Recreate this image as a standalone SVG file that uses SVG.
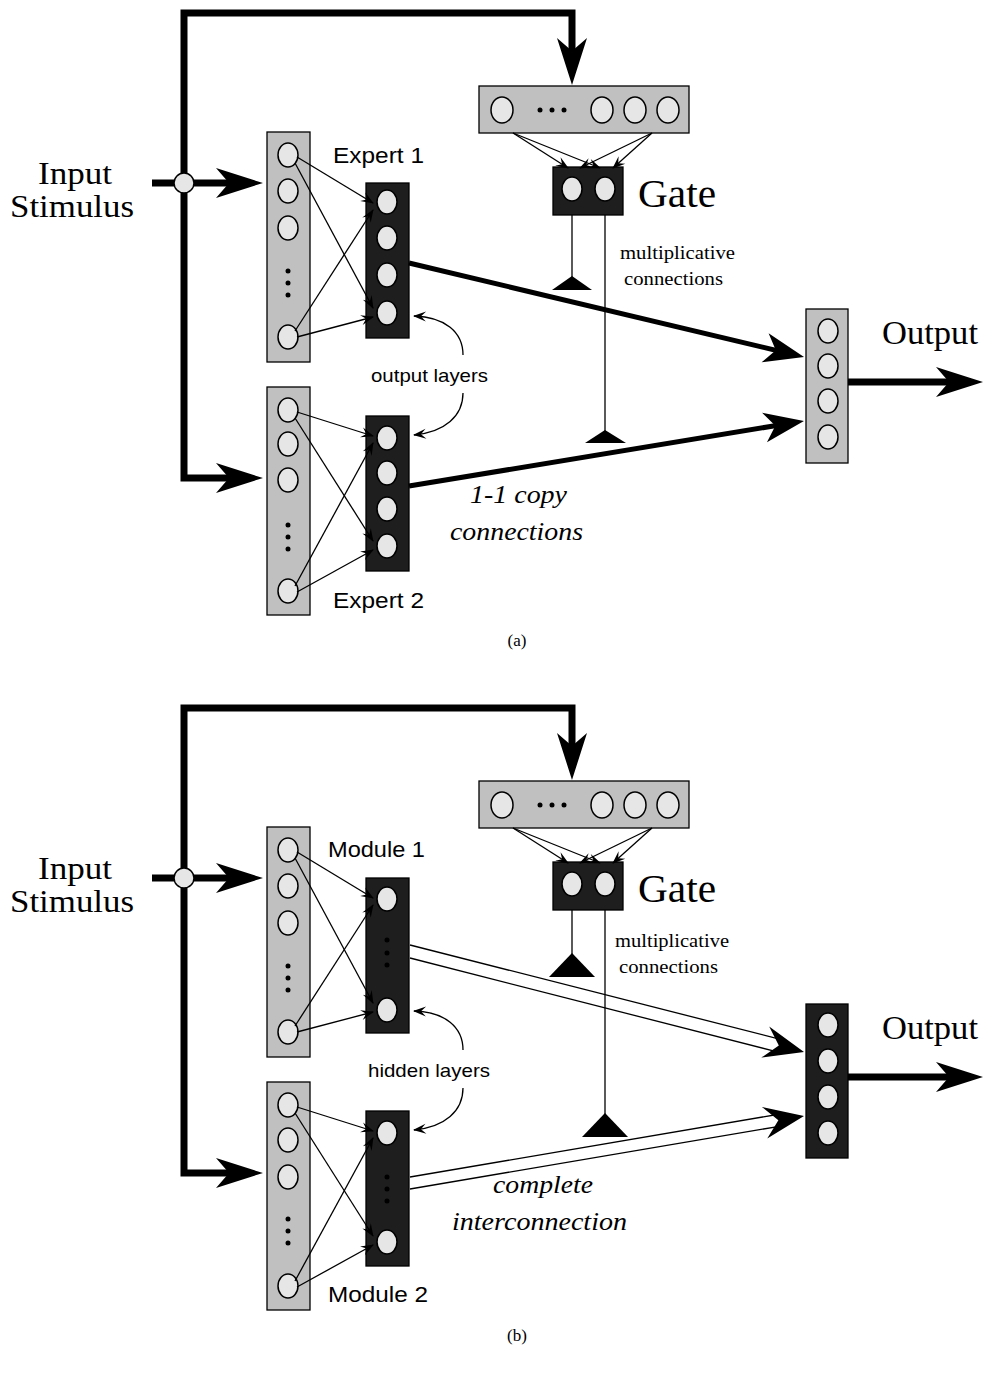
<svg xmlns="http://www.w3.org/2000/svg" width="985" height="1373" viewBox="0 0 985 1373">
<style>
.bg{fill:#fff}
.thick{fill:none;stroke:#000;stroke-width:7;stroke-linejoin:miter}
.med{fill:none;stroke:#000;stroke-width:5}
.thin{fill:none;stroke:#000;stroke-width:1.3}
.gray{fill:#c0c0c0;stroke:#000;stroke-width:1.3}
.dark{fill:#1e1e1e;stroke:#000;stroke-width:1.3}
.unit{fill:#e6e6e6;stroke:#000;stroke-width:1.5}
.dot{fill:#000}
.sans{font-family:"Liberation Sans",Arial,sans-serif;fill:#000}
.serif{font-family:"Liberation Serif","Times New Roman",serif;fill:#000}
.it{font-style:italic}
</style>
<defs>
<marker id="big" markerUnits="userSpaceOnUse" viewBox="-50 -20 70 40" markerWidth="70" markerHeight="40" refX="0" refY="0" orient="auto-start-reverse" overflow="visible">
<path d="M12,0 L-35,-15 L-22,0 L-35,15 Z" fill="#000"/>
</marker>
<marker id="medm" markerUnits="userSpaceOnUse" viewBox="-40 -20 60 40" markerWidth="60" markerHeight="40" refX="0" refY="0" orient="auto" overflow="visible">
<path d="M10,0 L-30,-15 L-19,0 L-30,15 Z" fill="#000"/>
</marker>
<marker id="sm" markerUnits="userSpaceOnUse" viewBox="-15 -8 20 16" markerWidth="20" markerHeight="16" refX="0" refY="0" orient="auto" overflow="visible">
<path d="M1,0 L-12,-5 L-7,0 L-12,5 Z" fill="#000"/>
</marker>
<path id="dah" d="M0,0 L-40,-16 L-26,0 L-40,16 Z" fill="#000"/>
</defs>
<rect class="bg" x="0" y="0" width="985" height="1373"/>

<!-- ================= PART (a) nodes ================= -->
<g id="input-label-a">
<text class="serif" x="38" y="184" font-size="32" textLength="74" lengthAdjust="spacingAndGlyphs">Input</text>
<text class="serif" x="10" y="217" font-size="32" textLength="124" lengthAdjust="spacingAndGlyphs">Stimulus</text>
</g>

<g id="expert1-input">
<rect class="gray" x="267" y="132" width="43" height="230"/>
<ellipse class="unit" cx="288" cy="155" rx="10" ry="12"/>
<ellipse class="unit" cx="288" cy="191" rx="10" ry="12"/>
<ellipse class="unit" cx="288" cy="228" rx="10" ry="12"/>
<circle class="dot" cx="288" cy="271" r="2.5"/>
<circle class="dot" cx="288" cy="283" r="2.5"/>
<circle class="dot" cx="288" cy="295" r="2.5"/>
<ellipse class="unit" cx="288" cy="337" rx="10" ry="12"/>
</g>
<g id="expert1-output">
<rect class="dark" x="366" y="183" width="43" height="155"/>
<ellipse class="unit" cx="387" cy="202" rx="10" ry="12"/>
<ellipse class="unit" cx="387" cy="238" rx="10" ry="12"/>
<ellipse class="unit" cx="387" cy="275" rx="10" ry="12"/>
<ellipse class="unit" cx="387" cy="313" rx="10" ry="12"/>
<text class="sans" x="333" y="163" font-size="22" textLength="91" lengthAdjust="spacingAndGlyphs">Expert 1</text>
</g>

<g id="expert2-input">
<rect class="gray" x="267" y="387" width="43" height="228"/>
<ellipse class="unit" cx="288" cy="410" rx="10" ry="12"/>
<ellipse class="unit" cx="288" cy="444" rx="10" ry="12"/>
<ellipse class="unit" cx="288" cy="480" rx="10" ry="12"/>
<circle class="dot" cx="288" cy="525" r="2.5"/>
<circle class="dot" cx="288" cy="537" r="2.5"/>
<circle class="dot" cx="288" cy="549" r="2.5"/>
<ellipse class="unit" cx="288" cy="591" rx="10" ry="12"/>
</g>
<g id="expert2-output">
<rect class="dark" x="366" y="416" width="43" height="155"/>
<ellipse class="unit" cx="387" cy="438" rx="10" ry="12"/>
<ellipse class="unit" cx="387" cy="473" rx="10" ry="12"/>
<ellipse class="unit" cx="387" cy="509" rx="10" ry="12"/>
<ellipse class="unit" cx="387" cy="546" rx="10" ry="12"/>
<text class="sans" x="333" y="608" font-size="22" textLength="91" lengthAdjust="spacingAndGlyphs">Expert 2</text>
</g>

<g id="gate-input-a">
<rect class="gray" x="479" y="86" width="210" height="47"/>
<ellipse class="unit" cx="502" cy="110" rx="11" ry="13"/>
<circle class="dot" cx="540" cy="110" r="2.5"/>
<circle class="dot" cx="552" cy="110" r="2.5"/>
<circle class="dot" cx="564" cy="110" r="2.5"/>
<ellipse class="unit" cx="602" cy="110" rx="11" ry="13"/>
<ellipse class="unit" cx="635" cy="110" rx="11" ry="13"/>
<ellipse class="unit" cx="668" cy="110" rx="11" ry="13"/>
</g>
<g id="gate-a">
<rect class="dark" x="553" y="167" width="70" height="48"/>
<ellipse class="unit" cx="572" cy="189" rx="10" ry="12"/>
<ellipse class="unit" cx="605" cy="189" rx="10" ry="12"/>
<text class="serif" x="638" y="207" font-size="40" textLength="78" lengthAdjust="spacingAndGlyphs">Gate</text>
</g>

<g id="output-a">
<rect class="gray" x="806" y="309" width="42" height="154"/>
<ellipse class="unit" cx="828" cy="331" rx="10" ry="12"/>
<ellipse class="unit" cx="828" cy="366" rx="10" ry="12"/>
<ellipse class="unit" cx="828" cy="401" rx="10" ry="12"/>
<ellipse class="unit" cx="828" cy="437" rx="10" ry="12"/>
<text class="serif" x="882" y="344" font-size="33" textLength="96" lengthAdjust="spacingAndGlyphs">Output</text>
</g>

<g id="labels-a">
<text class="serif" x="620" y="259" font-size="19" textLength="115" lengthAdjust="spacingAndGlyphs">multiplicative</text>
<text class="serif" x="624" y="285" font-size="19" textLength="99" lengthAdjust="spacingAndGlyphs">connections</text>
<text class="sans" x="371" y="382" font-size="19" textLength="117" lengthAdjust="spacingAndGlyphs">output layers</text>
<text class="serif it" x="470" y="503" font-size="26" textLength="97" lengthAdjust="spacingAndGlyphs">1-1 copy</text>
<text class="serif it" x="450" y="540" font-size="26" textLength="133" lengthAdjust="spacingAndGlyphs">connections</text>
<text class="serif" x="517" y="646" font-size="17" text-anchor="middle">(a)</text>
</g>

<!-- ================= PART (a) connectors ================= -->
<g id="connectors-a">
<path class="thick" d="M152,183 L251,183" marker-end="url(#big)"/>
<path class="thick" d="M251,478 L184,478 L184,13 L572,13 L572,73" marker-start="url(#big)" marker-end="url(#big)"/>
<path class="thin" d="M297,157 L373,203" marker-end="url(#sm)"/>
<path class="thin" d="M295,163 L373,308" marker-end="url(#sm)"/>
<path class="thin" d="M295,331 L373,210" marker-end="url(#sm)"/>
<path class="thin" d="M297,337 L373,317" marker-end="url(#sm)"/>
<path class="thin" d="M297,412 L373,436" marker-end="url(#sm)"/>
<path class="thin" d="M295,418 L373,541" marker-end="url(#sm)"/>
<path class="thin" d="M295,586 L373,443" marker-end="url(#sm)"/>
<path class="thin" d="M297,592 L373,550" marker-end="url(#sm)"/>
<path class="thin" d="M513,133 L568,168" marker-end="url(#sm)"/>
<path class="thin" d="M513,133 L600,168" marker-end="url(#sm)"/>
<path class="thin" d="M652,133 L580,168" marker-end="url(#sm)"/>
<path class="thin" d="M652,133 L613,168" marker-end="url(#sm)"/>
<path class="thin" d="M572,215 L572,277"/>
<path d="M552,290 L592,290 L572,276 Z" fill="#000"/>
<path class="thin" d="M605,215 L605,431"/>
<path d="M585,443 L626,443 L605,430 Z" fill="#000"/>
<path class="med" d="M409,263 L794.3,354.7" marker-end="url(#medm)"/>
<path class="med" d="M409,486 L794.1,422.6" marker-end="url(#medm)"/>
<path class="thick" d="M848,382 L971,382" marker-end="url(#big)"/>
<path class="thin" d="M463,355 C463,332 445,317 414,316" marker-end="url(#sm)"/>
<path class="thin" d="M463,393 C463,416 445,432 414,435" marker-end="url(#sm)"/>
<circle class="unit" cx="184" cy="183" r="10"/>
</g>

<!-- ================= PART (b) nodes ================= -->
<g id="input-label-b">
<text class="serif" x="38" y="879" font-size="32" textLength="74" lengthAdjust="spacingAndGlyphs">Input</text>
<text class="serif" x="10" y="912" font-size="32" textLength="124" lengthAdjust="spacingAndGlyphs">Stimulus</text>
</g>

<g id="module1-input">
<rect class="gray" x="267" y="827" width="43" height="230"/>
<ellipse class="unit" cx="288" cy="850" rx="10" ry="12"/>
<ellipse class="unit" cx="288" cy="886" rx="10" ry="12"/>
<ellipse class="unit" cx="288" cy="923" rx="10" ry="12"/>
<circle class="dot" cx="288" cy="966" r="2.5"/>
<circle class="dot" cx="288" cy="978" r="2.5"/>
<circle class="dot" cx="288" cy="990" r="2.5"/>
<ellipse class="unit" cx="288" cy="1032" rx="10" ry="12"/>
</g>
<g id="module1-hidden">
<rect class="dark" x="366" y="878" width="43" height="155"/>
<ellipse class="unit" cx="387" cy="899" rx="10" ry="12"/>
<circle class="dot" cx="387" cy="940" r="2.5"/>
<circle class="dot" cx="387" cy="953" r="2.5"/>
<circle class="dot" cx="387" cy="965" r="2.5"/>
<ellipse class="unit" cx="387" cy="1010" rx="10" ry="12"/>
<text class="sans" x="328" y="857" font-size="22" textLength="97" lengthAdjust="spacingAndGlyphs">Module 1</text>
</g>

<g id="module2-input">
<rect class="gray" x="267" y="1082" width="43" height="228"/>
<ellipse class="unit" cx="288" cy="1105" rx="10" ry="12"/>
<ellipse class="unit" cx="288" cy="1140" rx="10" ry="12"/>
<ellipse class="unit" cx="288" cy="1177" rx="10" ry="12"/>
<circle class="dot" cx="288" cy="1219" r="2.5"/>
<circle class="dot" cx="288" cy="1231" r="2.5"/>
<circle class="dot" cx="288" cy="1243" r="2.5"/>
<ellipse class="unit" cx="288" cy="1286" rx="10" ry="12"/>
</g>
<g id="module2-hidden">
<rect class="dark" x="366" y="1111" width="43" height="155"/>
<ellipse class="unit" cx="387" cy="1133" rx="10" ry="12"/>
<circle class="dot" cx="387" cy="1177" r="2.5"/>
<circle class="dot" cx="387" cy="1189" r="2.5"/>
<circle class="dot" cx="387" cy="1201" r="2.5"/>
<ellipse class="unit" cx="387" cy="1242" rx="10" ry="12"/>
<text class="sans" x="328" y="1302" font-size="22" textLength="100" lengthAdjust="spacingAndGlyphs">Module 2</text>
</g>

<g id="gate-input-b">
<rect class="gray" x="479" y="781" width="210" height="47"/>
<ellipse class="unit" cx="502" cy="805" rx="11" ry="13"/>
<circle class="dot" cx="540" cy="805" r="2.5"/>
<circle class="dot" cx="552" cy="805" r="2.5"/>
<circle class="dot" cx="564" cy="805" r="2.5"/>
<ellipse class="unit" cx="602" cy="805" rx="11" ry="13"/>
<ellipse class="unit" cx="635" cy="805" rx="11" ry="13"/>
<ellipse class="unit" cx="668" cy="805" rx="11" ry="13"/>
</g>
<g id="gate-b">
<rect class="dark" x="553" y="862" width="70" height="48"/>
<ellipse class="unit" cx="572" cy="884" rx="10" ry="12"/>
<ellipse class="unit" cx="605" cy="884" rx="10" ry="12"/>
<text class="serif" x="638" y="902" font-size="40" textLength="78" lengthAdjust="spacingAndGlyphs">Gate</text>
</g>

<g id="output-b">
<rect class="dark" x="806" y="1004" width="42" height="154"/>
<ellipse class="unit" cx="828" cy="1025" rx="10" ry="12"/>
<ellipse class="unit" cx="828" cy="1061" rx="10" ry="12"/>
<ellipse class="unit" cx="828" cy="1097" rx="10" ry="12"/>
<ellipse class="unit" cx="828" cy="1133" rx="10" ry="12"/>
<text class="serif" x="882" y="1039" font-size="33" textLength="96" lengthAdjust="spacingAndGlyphs">Output</text>
</g>

<g id="labels-b">
<text class="serif" x="615" y="947" font-size="19" textLength="114" lengthAdjust="spacingAndGlyphs">multiplicative</text>
<text class="serif" x="619" y="973" font-size="19" textLength="99" lengthAdjust="spacingAndGlyphs">connections</text>
<text class="sans" x="368" y="1077" font-size="19" textLength="122" lengthAdjust="spacingAndGlyphs">hidden layers</text>
<text class="serif it" x="493" y="1193" font-size="26" textLength="100" lengthAdjust="spacingAndGlyphs">complete</text>
<text class="serif it" x="452" y="1230" font-size="26" textLength="175" lengthAdjust="spacingAndGlyphs">interconnection</text>
<text class="serif" x="517" y="1341" font-size="17" text-anchor="middle">(b)</text>
</g>

<!-- ================= PART (b) connectors ================= -->
<g id="connectors-b">
<path class="thick" d="M152,878 L251,878" marker-end="url(#big)"/>
<path class="thick" d="M251,1173 L184,1173 L184,708 L572,708 L572,768" marker-start="url(#big)" marker-end="url(#big)"/>
<path class="thin" d="M297,852 L373,898" marker-end="url(#sm)"/>
<path class="thin" d="M295,858 L373,1003" marker-end="url(#sm)"/>
<path class="thin" d="M295,1026 L373,905" marker-end="url(#sm)"/>
<path class="thin" d="M297,1032 L373,1012" marker-end="url(#sm)"/>
<path class="thin" d="M297,1107 L373,1131" marker-end="url(#sm)"/>
<path class="thin" d="M295,1113 L373,1236" marker-end="url(#sm)"/>
<path class="thin" d="M295,1281 L373,1138" marker-end="url(#sm)"/>
<path class="thin" d="M297,1287 L373,1245" marker-end="url(#sm)"/>
<path class="thin" d="M513,828 L568,863" marker-end="url(#sm)"/>
<path class="thin" d="M513,828 L600,863" marker-end="url(#sm)"/>
<path class="thin" d="M652,828 L580,863" marker-end="url(#sm)"/>
<path class="thin" d="M652,828 L613,863" marker-end="url(#sm)"/>
<path class="thin" d="M572,910 L572,955"/>
<path d="M549,977 L595,977 L572,953 Z" fill="#000"/>
<path class="thin" d="M605,910 L605,1115"/>
<path d="M582,1137 L628,1137 L605,1113 Z" fill="#000"/>
<path class="thin" d="M410,945 L780.4,1039.3"/>
<path class="thin" d="M410,958 L777.2,1051.9"/>
<use href="#dah" transform="translate(804,1052) rotate(14.3)"/>
<path class="thin" d="M410,1177 L777.4,1114.5"/>
<path class="thin" d="M410,1189 L779.4,1126.3"/>
<use href="#dah" transform="translate(804,1116) rotate(-9.65)"/>
<path class="thick" d="M848,1077 L971,1077" marker-end="url(#big)"/>
<path class="thin" d="M463,1050 C463,1027 445,1012 414,1011" marker-end="url(#sm)"/>
<path class="thin" d="M463,1088 C463,1111 445,1127 414,1130" marker-end="url(#sm)"/>
<circle class="unit" cx="184" cy="878" r="10"/>
</g>
</svg>
